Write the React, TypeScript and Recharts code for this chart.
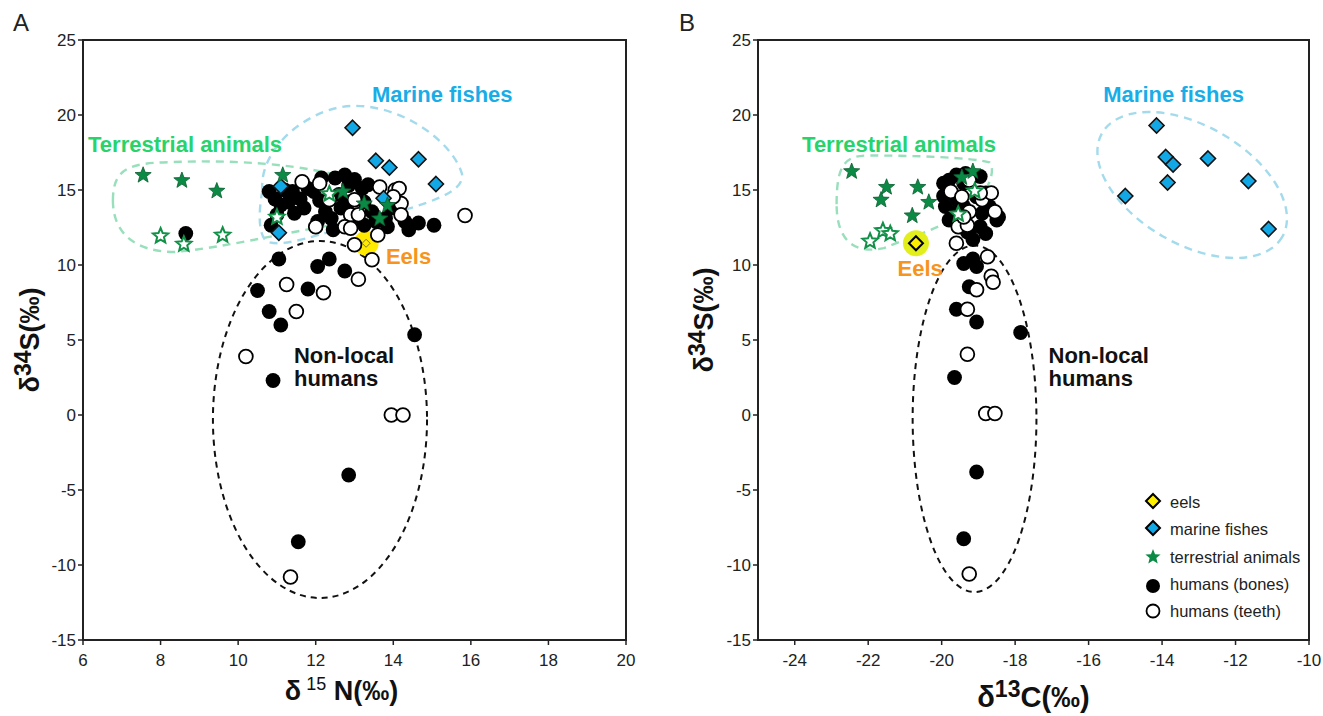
import React from 'react'
import {
  ScatterChart, Scatter, XAxis, YAxis, ReferenceArea, ReferenceDot, Legend,
} from 'recharts'

const FONT = '"Liberation Sans", Arial, Helvetica, sans-serif'
const INK = '#222'

const nitrogenTicks = [6, 8, 10, 12, 14, 16, 18, 20]
const carbonTicks = [-24, -22, -20, -18, -16, -14, -12, -10]
const sulfurTicks = [-15, -10, -5, 0, 5, 10, 15, 20, 25]

// panel A: d15N vs d34S
const nBones = [
  [10.8, 14.9], [10.95, 14.4], [11.1, 14.0], [11.2, 15.0], [11.4, 14.9], [11.3, 14.2], [11.45, 13.45],
  [11.6, 14.4], [11.8, 15.1], [11.95, 14.9], [12.15, 15.8], [12.5, 15.8], [12.75, 16.0], [12.85, 15.3],
  [12.6, 14.7], [12.65, 13.8], [12.25, 13.55], [12.05, 12.9], [12.4, 13.1], [12.45, 12.35], [13.2, 15.1],
  [13.35, 15.35], [13.25, 14.2], [13.45, 13.55], [13.25, 12.65], [13.55, 12.9], [13.8, 13.1], [13.95, 13.8],
  [14.3, 12.9], [14.65, 12.8], [15.05, 12.65], [14.4, 12.35], [13.85, 12.55], [10.85, 12.65], [13.0, 15.7],
  [11.0, 13.35], [11.7, 13.8], [12.1, 14.3], [12.85, 14.2], [13.0, 12.9],
  [11.05, 10.4], [12.05, 9.9], [12.35, 10.4], [12.75, 9.6], [10.5, 8.3], [11.8, 8.4], [10.8, 6.9],
  [11.1, 6.0], [14.55, 5.35], [10.9, 2.3], [12.85, -4.0], [11.55, -8.45], [8.65, 12.1],
]
const nTeeth = [
  [11.65, 15.55], [12.1, 15.45], [12.35, 14.35], [13.0, 14.35], [12.9, 13.35], [13.1, 13.35], [13.65, 15.2],
  [14.05, 15.0], [14.15, 15.1], [14.2, 14.1], [14.2, 13.35], [14.0, 14.55], [12.0, 12.55], [12.75, 12.55],
  [12.9, 12.45], [13.6, 12.0], [13.0, 11.35],
  [11.25, 8.7], [12.2, 8.15], [11.5, 6.9], [13.1, 9.05], [13.45, 10.35], [10.2, 3.9], [13.95, 0.0],
  [14.25, 0.0], [11.35, -10.8], [15.85, 13.3],
]
const nMarine = [
  [12.95, 19.15], [13.55, 16.95], [13.9, 16.5], [14.65, 17.05], [15.1, 15.4], [11.1, 15.25], [13.75, 14.45], [11.05, 12.15],
]
const nTerrestrial = [
  [7.55, 16.05], [8.55, 15.7], [9.45, 15.0], [11.15, 16.05], [12.7, 14.95], [13.25, 14.15], [13.85, 14.05], [13.65, 13.15],
]
const nTerrestrialOpen = [[8.0, 12.0], [8.6, 11.45], [9.6, 12.05], [11.0, 13.25], [12.35, 14.8]]
const nEels = [[13.3, 11.45]]

// panel B: d13C vs d34S
const cBones = [
  [-19.8, 15.65], [-19.6, 16.0], [-19.85, 14.8], [-19.9, 13.9], [-19.8, 13.0], [-19.5, 12.55], [-19.25, 12.35],
  [-18.95, 12.55], [-18.9, 13.45], [-18.7, 13.9], [-18.5, 13.0], [-19.05, 14.55], [-19.4, 15.45], [-19.35, 16.1],
  [-19.7, 13.45], [-19.15, 11.7], [-18.8, 14.8], [-19.4, 13.9], [-19.6, 14.35], [-19.95, 15.45], [-18.95, 15.9],
  [-19.95, 14.6], [-18.45, 13.2], [-19.3, 12.2], [-18.8, 12.1],
  [-19.4, 10.1], [-19.15, 10.4], [-19.05, 9.9], [-19.25, 8.55], [-19.6, 7.05], [-19.05, 6.2], [-17.85, 5.5],
  [-19.65, 2.5], [-19.05, -3.8], [-19.4, -8.25],
]
const cTeeth = [
  [-19.75, 14.9], [-19.45, 14.55], [-19.25, 15.65], [-18.9, 14.35], [-18.65, 14.8], [-18.55, 13.55], [-19.25, 13.55],
  [-19.55, 12.55], [-19.3, 12.65], [-19.6, 11.45], [-18.95, 14.8], [-19.4, 13.2],
  [-18.75, 10.55], [-18.65, 9.25], [-18.6, 8.85], [-19.05, 8.35], [-19.3, 7.05], [-19.3, 4.05], [-18.8, 0.1],
  [-18.55, 0.1], [-19.25, -10.6],
]
const cMarine = [
  [-14.15, 19.3], [-13.9, 17.2], [-13.7, 16.7], [-12.75, 17.1], [-13.85, 15.5], [-15.0, 14.6], [-11.65, 15.6], [-11.1, 12.4],
]
const cTerrestrial = [
  [-22.45, 16.3], [-21.5, 15.25], [-21.65, 14.4], [-20.65, 15.25], [-20.35, 14.25], [-20.8, 13.35], [-19.45, 15.9], [-19.15, 16.3],
]
const cTerrestrialOpen = [[-21.95, 11.65], [-21.6, 12.35], [-21.4, 12.15], [-19.55, 13.45], [-19.1, 15.0]]
const cEels = [[-20.7, 11.45]]

const legendItems = [
  { label: 'eels', kind: 'eel' },
  { label: 'marine fishes', kind: 'fish' },
  { label: 'terrestrial animals', kind: 'star' },
  { label: 'humans (bones)', kind: 'bone' },
  { label: 'humans (teeth)', kind: 'tooth' },
]

const toPts = (rows: number[][]) => rows.map(([x, y]) => ({ x, y }))

// marker shapes
const diamond = (cx: number, cy: number, s: number) => `M${cx},${cy - s}L${cx + s},${cy}L${cx},${cy + s}L${cx - s},${cy}Z`
const star = (cx: number, cy: number, R: number, r: number) => {
  let d = ''
  for (let i = 0; i < 10; i++) {
    const a = -Math.PI / 2 + (i * Math.PI) / 5
    const rad = i % 2 ? r : R
    d += (i ? 'L' : 'M') + (cx + rad * Math.cos(a)).toFixed(2) + ',' + (cy + rad * Math.sin(a)).toFixed(2)
  }
  return d + 'Z'
}
const Bone = (p: any) => <circle cx={p.cx} cy={p.cy} r={7.4} fill="#000" />
const Tooth = (p: any) => <circle cx={p.cx} cy={p.cy} r={6.9} fill="#fff" stroke="#000" strokeWidth={1.8} />
const Fish = (p: any) => <path d={diamond(p.cx, p.cy, 7.5)} fill="#12a8e6" stroke="#111" strokeWidth={1.6} />
const Star = (p: any) => <path d={star(p.cx, p.cy + 1, 8.5, 3.6)} fill="#0b8a45" stroke="#0a5e30" strokeWidth={0.8} />
const StarOpen = (p: any) => <path d={star(p.cx, p.cy + 1, 8, 3.6)} fill="#fff" stroke="#119048" strokeWidth={2} />
const EelA = (p: any) => (
  <g>
    <circle cx={p.cx} cy={p.cy} r={12.5} fill="#ffea00" />
    <path d={diamond(p.cx, p.cy, 4)} fill="#ffea00" stroke="#555" strokeWidth={0.8} />
  </g>
)
const EelB = (p: any) => (
  <g>
    <circle cx={p.cx} cy={p.cy} r={13} fill="#e3ef1c" />
    <path d={diamond(p.cx, p.cy, 7)} fill="#fff000" stroke="#000" strokeWidth={2} />
  </g>
)

// group outlines, normalised inside the ReferenceArea box
const outline = (segs: number[][], stroke: string, dash: string, width: number) => (p: any) => {
  const { x, y, width: w, height: h } = p
  const X = (u: number) => (x + u * w).toFixed(1)
  const Y = (v: number) => (y + v * h).toFixed(1)
  let d = `M${X(segs[0][0])},${Y(segs[0][1])}`
  for (const s of segs.slice(1)) {
    d += `C${X(s[0])},${Y(s[1])} ${X(s[2])},${Y(s[3])} ${X(s[4])},${Y(s[5])}`
  }
  return <path d={d + 'Z'} fill="none" stroke={stroke} strokeWidth={width} strokeDasharray={dash} />
}
const ellipse = (stroke: string, dash: string, width: number, angle = 0) => (p: any) => {
  const hw = p.width / 2, hh = p.height / 2
  const cx = p.x + hw, cy = p.y + hh
  let rx = hw, ry = hh
  if (angle) {
    const c = Math.cos((angle * Math.PI) / 180) ** 2, s = 1 - c
    rx = Math.sqrt((hw * hw * c - hh * hh * s) / (c - s))
    ry = Math.sqrt((hh * hh * c - hw * hw * s) / (c - s))
  }
  return (
    <ellipse cx={cx} cy={cy} rx={rx} ry={ry} transform={`rotate(${angle} ${cx} ${cy})`}
      fill="none" stroke={stroke} strokeWidth={width} strokeDasharray={dash} />
  )
}

const GREEN_LINE = '#98dfbc'
const BLUE_LINE = '#a3dbec'
const terrA = outline([
  [0, 0.45], [0, 0.1, 0.06, 0.05, 0.2, 0.04], [0.5, 0.0, 0.8, 0.1, 0.95, 0.35],
  [1.02, 0.5, 0.95, 0.65, 0.8, 0.7], [0.6, 0.8, 0.4, 0.95, 0.22, 1.0], [0.08, 1.0, 0, 0.8, 0, 0.45],
], GREEN_LINE, '8 6', 2.4)
const marineA = outline([
  [0.02, 0.6], [0.0, 0.3, 0.25, 0.02, 0.46, 0.01], [0.7, 0.0, 0.95, 0.25, 1.0, 0.48],
  [1.02, 0.62, 0.8, 0.7, 0.55, 0.8], [0.3, 0.9, 0.12, 1.0, 0.04, 0.95], [0.0, 0.9, 0.0, 0.75, 0.02, 0.6],
], BLUE_LINE, '8 6', 2.4)
const terrB = outline([
  [0, 0.5], [0, 0.1, 0.05, 0.0, 0.2, 0.0], [0.5, 0.0, 0.85, 0.02, 0.97, 0.07],
  [1.02, 0.15, 0.95, 0.45, 0.8, 0.6], [0.65, 0.75, 0.45, 0.85, 0.3, 0.95], [0.1, 1.02, 0.0, 0.85, 0, 0.5],
], GREEN_LINE, '8 6', 2.4)

const note = (lines: string[], color: string) => (p: any) => (
  <text x={p.cx} y={p.cy + 8} fill={color} fontFamily={FONT} fontWeight="bold" fontSize={22}>
    {lines.map((l, i) => <tspan key={i} x={p.cx} dy={i ? 23 : 0}>{l}</tspan>)}
  </text>
)

const sulfurTitle = (dx: number, dy: number) => (props: any) => {
  const vb = props.viewBox
  const cx = vb.x + dx, cy = vb.y + vb.height / 2 + dy
  return (
    <text x={cx} y={cy + 9} transform={`rotate(-90 ${cx} ${cy})`} textAnchor="middle"
      fontFamily={FONT} fontWeight="bold" fontSize={27} fill="#111">
      δ<tspan fontSize={23} dy={-8}>34</tspan><tspan dy={8}>S(‰)</tspan>
    </text>
  )
}
const nitrogenTitle = (props: any) => {
  const vb = props.viewBox
  return (
    <text x={vb.x + vb.width / 2 - 13} y={vb.y + 60} textAnchor="middle"
      fontFamily={FONT} fontWeight="bold" fontSize={27} fill="#111">
      δ<tspan fontWeight="normal" fontSize={18} dy={-10}> 15</tspan><tspan dy={10}> N(‰)</tspan>
    </text>
  )
}
const carbonTitle = (props: any) => {
  const vb = props.viewBox
  return (
    <text x={vb.x + vb.width / 2} y={vb.y + 67} textAnchor="middle"
      fontFamily={FONT} fontWeight="bold" fontSize={29} fill="#111">
      δ<tspan fontSize={23} dy={-10}>13</tspan><tspan dy={10}>C(‰)</tspan>
    </text>
  )
}

const legendMarker = (kind: string) => {
  if (kind === 'eel') return <path d={diamond(10, 10, 7)} fill="#fff000" stroke="#000" strokeWidth={2} />
  if (kind === 'fish') return <path d={diamond(10, 10, 7)} fill="#12a8e6" stroke="#000" strokeWidth={2} />
  if (kind === 'star') return <path d={star(10, 12, 8, 3.5)} fill="#0b8a45" />
  if (kind === 'bone') return <circle cx={10} cy={13} r={7} fill="#000" />
  return <circle cx={10} cy={11} r={6.5} fill="#fff" stroke="#000" strokeWidth={1.8} />
}
const renderLegend = () => (
  <div style={{ fontFamily: FONT, fontSize: 16.5, color: INK }}>
    {legendItems.map((it) => (
      <div key={it.label} style={{ display: 'flex', alignItems: 'center', height: 27.3 }}>
        <svg width={20} height={24} style={{ marginRight: 7 }}>{legendMarker(it.kind)}</svg>
        <span>{it.label}</span>
      </div>
    ))}
  </div>
)

const tickStyle = { fill: INK, fontSize: 17, fontFamily: FONT }
const axisLine = { stroke: INK, strokeWidth: 2 }
const tickLine = { stroke: INK, strokeWidth: 1.5 }

function PanelA() {
  return (
    <ScatterChart width={660} height={716} margin={{ top: 40, right: 34, left: 23, bottom: 0 }}>
      <XAxis type="number" dataKey="x" domain={[6, 20]} ticks={nitrogenTicks} height={76}
        tick={tickStyle} tickSize={5} tickMargin={9} axisLine={axisLine} tickLine={tickLine} label={{ content: nitrogenTitle }} />
      <YAxis type="number" dataKey="y" domain={[-15, 25]} ticks={sulfurTicks} width={60}
        tick={tickStyle} tickSize={5} tickMargin={2} axisLine={axisLine} tickLine={tickLine} label={{ content: sulfurTitle(7, 0) }} />
      <ReferenceArea x1={6} x2={20} y1={-15} y2={25} fill="none" stroke={INK} strokeWidth={2} ifOverflow="visible" />
      <ReferenceArea x1={6.77} x2={14.04} y1={10.87} y2={17.1} shape={terrA} ifOverflow="visible" />
      <ReferenceArea x1={10.52} x2={15.77} y1={11.1} y2={20.7} shape={marineA} ifOverflow="visible" />
      <ReferenceArea x1={9.35} x2={14.87} y1={-12.2} y2={11.6} shape={ellipse('#111', '6 5', 2)} ifOverflow="visible" />
      <Scatter name="eels" data={toPts(nEels)} shape={EelA} isAnimationActive={false} />
      <Scatter name="humans (bones)" data={toPts(nBones)} shape={Bone} isAnimationActive={false} />
      <Scatter name="humans (teeth)" data={toPts(nTeeth)} shape={Tooth} isAnimationActive={false} />
      <Scatter name="marine fishes" data={toPts(nMarine)} shape={Fish} isAnimationActive={false} />
      <Scatter name="terrestrial animals" data={toPts(nTerrestrial)} shape={Star} isAnimationActive={false} />
      <Scatter name="terrestrial animals (open)" data={toPts(nTerrestrialOpen)} shape={StarOpen} isAnimationActive={false} />
      <ReferenceDot x={13.45} y={21.4} shape={note(['Marine fishes'], '#19ade8')} ifOverflow="visible" />
      <ReferenceDot x={6.13} y={18.07} shape={note(['Terrestrial animals'], '#27d36a')} ifOverflow="visible" />
      <ReferenceDot x={13.81} y={10.6} shape={note(['Eels'], '#f7941d')} ifOverflow="visible" />
      <ReferenceDot x={11.44} y={4.0} shape={note(['Non-local', 'humans'], '#111')} ifOverflow="visible" />
    </ScatterChart>
  )
}

function PanelB() {
  return (
    <ScatterChart width={663} height={716} margin={{ top: 40, right: 14, left: 38, bottom: 0 }}>
      <XAxis type="number" dataKey="x" domain={[-25, -10]} ticks={carbonTicks} height={76}
        tick={tickStyle} tickSize={5} tickMargin={9} axisLine={axisLine} tickLine={tickLine} label={{ content: carbonTitle }} />
      <YAxis type="number" dataKey="y" domain={[-15, 25]} ticks={sulfurTicks} width={60}
        tick={tickStyle} tickSize={5} tickMargin={2} axisLine={axisLine} tickLine={tickLine} label={{ content: sulfurTitle(6, -20) }} />
      <ReferenceArea x1={-25} x2={-10} y1={-15} y2={25} fill="none" stroke={INK} strokeWidth={2} ifOverflow="visible" />
      <ReferenceArea x1={-22.86} x2={-18.57} y1={10.8} y2={17.3} shape={terrB} ifOverflow="visible" />
      <ReferenceArea x1={-15.76} x2={-10.6} y1={10.47} y2={20.2} shape={ellipse(BLUE_LINE, '8 6', 2.4, 30)} ifOverflow="visible" />
      <ReferenceArea x1={-20.79} x2={-17.42} y1={-11.8} y2={11.3} shape={ellipse('#111', '6 5', 2)} ifOverflow="visible" />
      <Scatter name="eels" data={toPts(cEels)} shape={EelB} isAnimationActive={false} />
      <Scatter name="humans (bones)" data={toPts(cBones)} shape={Bone} isAnimationActive={false} />
      <Scatter name="humans (teeth)" data={toPts(cTeeth)} shape={Tooth} isAnimationActive={false} />
      <Scatter name="marine fishes" data={toPts(cMarine)} shape={Fish} isAnimationActive={false} />
      <Scatter name="terrestrial animals" data={toPts(cTerrestrial)} shape={Star} isAnimationActive={false} />
      <Scatter name="terrestrial animals (open)" data={toPts(cTerrestrialOpen)} shape={StarOpen} isAnimationActive={false} />
      <ReferenceDot x={-15.6} y={21.4} shape={note(['Marine fishes'], '#19ade8')} ifOverflow="visible" />
      <ReferenceDot x={-23.8} y={18.07} shape={note(['Terrestrial animals'], '#27d36a')} ifOverflow="visible" />
      <ReferenceDot x={-21.2} y={9.8} shape={note(['Eels'], '#f7941d')} ifOverflow="visible" />
      <ReferenceDot x={-17.09} y={4.0} shape={note(['Non-local', 'humans'], '#111')} ifOverflow="visible" />
      <Legend content={renderLegend} layout="vertical" align="center" verticalAlign="middle"
        wrapperStyle={{ position: 'absolute', left: 483, top: 489, width: 180 }} />
    </ScatterChart>
  )
}

export default function App() {
  return (
    <div style={{ position: 'absolute', left: 0, top: 0, width: 1323, height: 716, background: '#fff', fontFamily: FONT }}>
      <div style={{ position: 'absolute', left: 0, top: 0 }}><PanelA /></div>
      <div style={{ position: 'absolute', left: 660, top: 0 }}><PanelB /></div>
      <div style={{ position: 'absolute', left: 13, top: 9, fontSize: 24, color: INK }}>A</div>
      <div style={{ position: 'absolute', left: 679, top: 9, fontSize: 24, color: INK }}>B</div>
    </div>
  )
}
